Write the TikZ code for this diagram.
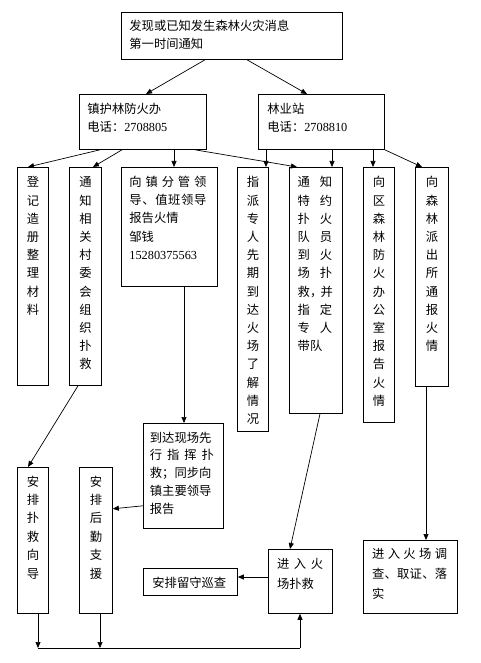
\documentclass[tikz,border=0pt]{standalone}
\usepackage{fontspec}
\setmainfont{Noto Sans CJK SC}
\newfontfamily\tnr{Liberation Serif}
\usetikzlibrary{arrows.meta}
% #1 width, #2 height, #3 left pad, #4 first baseline offset, #5 line spacing, #6 text
\newcommand\boxtxt[6]{\parbox[c][#2pt][t]{#1pt}{\setlength\parindent{0pt}\fontsize{12.3}{#5}\selectfont\baselineskip=#5pt\relax\vspace*{\dimexpr #4pt-#5pt\relax}\hbox{}\leftskip=#3pt\relax\rightskip=0pt plus 1fil\relax #6\par}}
\tikzset{
  box/.style={draw, line width=0.8pt, inner sep=0pt, anchor=north west},
  arr/.style={-{Triangle[length=6pt,width=5pt]}, line width=0.7pt},
  lnk/.style={line width=0.7pt}
}
\begin{document}
\begin{tikzpicture}[x=1pt,y=-1pt]
\useasboundingbox (0,0) rectangle (480,663);
% boxes
\node[box] (A) at (121,12) {\boxtxt{221}{47}{8}{18.6}{17.3}{发现或已知发生森林火灾消息\\第一时间通知}};
\node[box] (B) at (79,94) {\boxtxt{127}{55}{8}{19}{18}{镇护林防火办\\电话：{\tnr 2708805}}};
\node[box] (C) at (258,94) {\boxtxt{126}{55}{9}{19}{18}{林业站\\电话：{\tnr 2708810}}};
\node[box] (D) at (17,167) {\boxtxt{31}{218}{0}{19.4}{18.2}{\centering 登\\记\\造\\册\\整\\理\\材\\料}};
\node[box] (E) at (69,167) {\boxtxt{32}{218}{0}{19.4}{18.2}{\centering 通\\知\\相\\关\\村\\委\\会\\组\\织\\扑\\救}};
\node[box] (F) at (121,167) {\boxtxt{96}{119}{8}{19}{18.2}{\makebox[77pt][s]{向\hfill 镇\hfill 分\hfill 管\hfill 领}\\\makebox[77pt][s]{导\hfill 、\hfill 值\hfill 班\hfill 领\hfill 导}\\报告火情\\邹钱\\{\tnr 15280375563}}};
\node[box] (G) at (237,167) {\boxtxt{31}{264}{0}{19.4}{18.2}{\centering 指\\派\\专\\人\\先\\期\\到\\达\\火\\场\\了\\解\\情\\况}};
\node[box] (H) at (289,167) {\boxtxt{53}{246}{8.3}{19.4}{18.2}{\makebox[34.4pt][s]{通\hfill 知}\\\makebox[34.4pt][s]{特\hfill 约}\\\makebox[34.4pt][s]{扑\hfill 火}\\\makebox[34.4pt][s]{队\hfill 员}\\\makebox[34.4pt][s]{到\hfill 火}\\\makebox[34.4pt][s]{场\hfill 扑}\\\makebox[34.4pt][l]{救，\kern-1.7pt 并}\\\makebox[34.4pt][s]{指\hfill 定}\\\makebox[34.4pt][s]{专\hfill 人}\\带队}};
\node[box] (I) at (363,167) {\boxtxt{31}{255}{0}{19.4}{18.2}{\centering 向\\区\\森\\林\\防\\火\\办\\公\\室\\报\\告\\火\\情}};
\node[box] (J) at (415,167) {\boxtxt{33}{219}{0}{19.4}{18.2}{\centering 向\\森\\林\\派\\出\\所\\通\\报\\火\\情}};
\node[box] (K) at (143,423) {\boxtxt{80}{105}{6.5}{18.6}{17.8}{到达现场先\\\makebox[64pt][s]{行\hfill 指\hfill 挥\hfill 扑}\\救；同步向\\镇主要领导\\报告}};
\node[box] (L) at (17,467) {\boxtxt{31}{146}{0}{18.6}{18.4}{\centering 安\\排\\扑\\救\\向\\导}};
\node[box] (M) at (79,467) {\boxtxt{33}{146}{0}{18.6}{18.4}{\centering 安\\排\\后\\勤\\支\\援}};
\node[box] (N) at (143,568) {\boxtxt{94}{27}{9}{19.4}{18}{安排留守巡查}};
\node[box] (O) at (268,549) {\boxtxt{64}{64}{8.7}{18.6}{20.5}{\makebox[46pt][s]{进\hfill 入\hfill 火}\\场扑救}};
\node[box] (P) at (363,540) {\boxtxt{94}{73}{8.7}{18}{20}{\makebox[75pt][s]{进\hfill 入\hfill 火\hfill 场\hfill 调}\\\makebox[75pt][s]{查\hfill 、\hfill 取\hfill 证\hfill 、\hfill 落}\\实}};
% bottom collector line
\coordinate (b1) at (38,648);
\coordinate (b2) at (100,648);
\coordinate (b3) at (300,648);
% connectors
\draw[arr] ([xshift=84pt]A.south west) -- ([xshift=67pt]B.north west);
\draw[arr] ([xshift=126pt]A.south west) -- ([xshift=49pt]C.north west);
\draw[arr] ([xshift=21pt]B.south west) -- ([xshift=11pt]D.north west);
\draw[arr] ([xshift=43pt]B.south west) -- ([xshift=24pt]E.north west);
\draw[arr] ([xshift=95pt]B.south west) -- ([xshift=53pt]F.north west);
\draw[arr] ([xshift=116pt]B.south west) -- ([xshift=8pt]H.north west);
\draw[arr] ([xshift=8pt]C.south west) -- ([xshift=29pt]G.north west);
\draw[arr] ([xshift=74pt]C.south west) -- ([xshift=43pt]H.north west);
\draw[arr] ([xshift=115pt]C.south west) -- ([xshift=10pt]I.north west);
\draw[arr] (C.south east) -- ([xshift=7pt]J.north west);
\draw[arr] ([xshift=9pt]E.south west) -- ([xshift=11pt]L.north west);
\draw[arr] ([xshift=63pt]F.south west) -- ([xshift=41pt]K.north west);
\draw[arr] ([yshift=23pt]K.south west) -- ([yshift=105pt]M.south east);
\draw[arr] ([xshift=31pt]H.south west) -- ([xshift=22pt]O.north west);
\draw[arr] ([yshift=-28pt]O.north west) -- ([yshift=-9pt]N.north east);
\draw[arr] ([xshift=11pt]J.south west) -- ([xshift=63pt]P.north west);
\draw[arr] ([xshift=21pt]L.south west) -- (b1);
\draw[arr] ([xshift=21pt]M.south west) -- (b2);
\draw[lnk] (b1) -- (b3);
\draw[arr] (b3) -- ([xshift=32pt]O.south west);
\end{tikzpicture}
\end{document}
